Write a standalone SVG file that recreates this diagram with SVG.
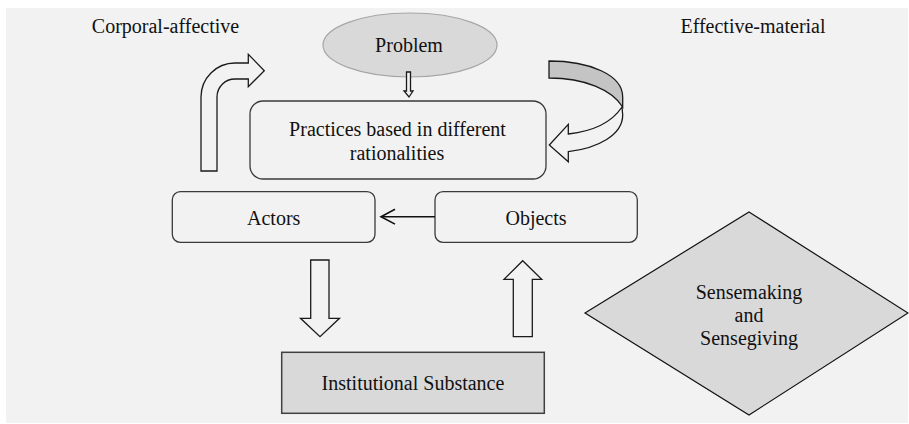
<svg xmlns="http://www.w3.org/2000/svg" width="909" height="424" viewBox="0 0 909 424">
<style>
text{font-family:"Liberation Serif","Times New Roman",serif;font-size:20px;fill:#111;text-anchor:middle}
.box{fill:#f2f2f2;stroke:#3a3a3a;stroke-width:1.3}
.blk{fill:#f2f2f2;stroke:#1a1a1a;stroke-width:1.3;stroke-linejoin:miter}
</style>
<rect x="0" y="0" width="909" height="424" fill="#ffffff"/>
<rect x="6" y="8" width="902" height="415" fill="#f2f2f2"/>
<g id="label-corporal"><text x="165.5" y="33">Corporal-affective</text></g>
<g id="label-effective"><text x="753" y="33">Effective-material</text></g>
<g id="problem">
<ellipse cx="410" cy="45" rx="87" ry="32" fill="#d9d9d9" stroke="#a6a6a6" stroke-width="1.2"/>
<text x="409" y="52">Problem</text>
</g>
<g id="practices">
<rect class="box" x="250" y="101" width="296" height="78" rx="13"/>
<text x="397.5" y="136">Practices based in different</text>
<text x="397" y="160">rationalities</text>
</g>
<g id="actors">
<rect class="box" x="172.3" y="191.7" width="202.7" height="50.6" rx="8"/>
<text x="273.7" y="225">Actors</text>
</g>
<g id="objects">
<rect class="box" x="435" y="191.7" width="202.3" height="50.6" rx="8"/>
<text x="536" y="225">Objects</text>
</g>
<g id="institutional">
<rect x="281.7" y="352.3" width="262.6" height="61" fill="#d9d9d9" stroke="#404040" stroke-width="1.5"/>
<text x="413" y="390">Institutional Substance</text>
</g>
<g id="sensemaking">
<polygon points="749,212 908,313 749,415 585,313" fill="#d9d9d9" stroke="#111" stroke-width="1.2"/>
<text x="749" y="299">Sensemaking</text>
<text x="749" y="322">and</text>
<text x="749" y="345">Sensegiving</text>
</g>
<g id="connectors">
<path class="blk" d="M406.5,72 H410.5 V91 H413 L409,97 L404,91 H406.5 Z" stroke-width="1"/>
<path class="blk" d="M201,171 V97 A34,34 0 0 1 235,63 H248.3 V54.3 L264.3,70.7 L248.3,86.7 V79 H235 A18,18 0 0 0 217,97 V171 Z"/>
<path d="M549,61 C590,61 622.7,75 622.7,97 L622.7,107 C612,90 585,78 549,78 Z" fill="#c4c4c4" stroke="#1a1a1a" stroke-width="1.3"/>
<path class="blk" d="M622,107 C612,122 595,131 568.3,134 V124.3 L549.3,145 L568.3,161.7 V151.7 C598,148 622.7,135 622.7,115 Z"/>
<line x1="435" y1="216.7" x2="381.5" y2="216.7" stroke="#111" stroke-width="1.6"/>
<polyline points="395,209.3 381,216.7 395,224.1" fill="none" stroke="#111" stroke-width="1.6"/>
<path class="blk" d="M310.7,260 H329 V318.3 H339.5 L320,336.7 L300.5,318.3 H310.7 Z"/>
<path class="blk" d="M513.3,336.7 V279.3 H504 L522.7,260.7 L541.7,279.3 H532.3 V336.7 Z"/>
</g>
</svg>
